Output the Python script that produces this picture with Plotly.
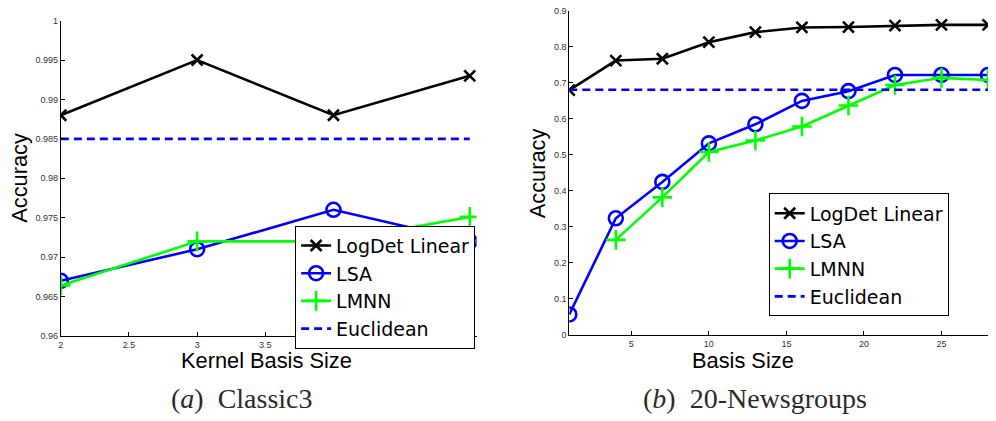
import plotly.graph_objects as go

# ---- data: (a) Classic3 ----
a_x = [2, 3, 4, 5]
a_logdet = [0.988, 0.995, 0.988, 0.993]
a_lsa = [0.967, 0.971, 0.976, 0.972]
a_lmnn = [0.9664, 0.972, 0.972, 0.9751]
a_euclid = 0.985

# ---- data: (b) 20-Newsgroups ----
b_x = [1, 4, 7, 10, 13, 16, 19, 22, 25, 28]
b_logdet = [0.680, 0.762, 0.767, 0.813, 0.841, 0.854, 0.855, 0.859, 0.861, 0.861]
b_lsa = [0.057, 0.324, 0.425, 0.532, 0.585, 0.650, 0.677, 0.722, 0.722, 0.722]
b_lmnn_x = [4, 7, 10, 13, 16, 19, 22, 25, 28]
b_lmnn = [0.264, 0.382, 0.508, 0.540, 0.579, 0.637, 0.694, 0.714, 0.708]
b_euclid = 0.681

series_names = ["LogDet Linear", "LSA", "LMNN", "Euclidean"]

W, H = 996, 421
def px(x):
    return x / W
def py(y):
    return 1 - y / H

BLACK, BLUE, GREEN = "#000000", "#0000FF", "#00FF00"
LW = 2.6

fig = go.Figure()

def add_panel(xs, logdet, lsa, lmnn_x, lmnn, euclid, xa, ya, leg):
    fig.add_trace(go.Scatter(x=xs, y=logdet, mode="lines+markers", name=series_names[0],
                             line=dict(color=BLACK, width=LW),
                             marker=dict(symbol="x-thin", size=11, line=dict(color=BLACK, width=2.6)),
                             xaxis=xa, yaxis=ya, legend=leg))
    fig.add_trace(go.Scatter(x=xs, y=lsa, mode="lines+markers", name=series_names[1],
                             line=dict(color=BLUE, width=LW),
                             marker=dict(symbol="circle-open", size=14, color=BLUE, line=dict(color=BLUE, width=2.6)),
                             xaxis=xa, yaxis=ya, legend=leg))
    fig.add_trace(go.Scatter(x=lmnn_x, y=lmnn, mode="lines+markers", name=series_names[2],
                             line=dict(color=GREEN, width=LW),
                             marker=dict(symbol="cross-thin", size=14, line=dict(color=GREEN, width=2.6)),
                             xaxis=xa, yaxis=ya, legend=leg))
    fig.add_trace(go.Scatter(x=[xs[0], xs[-1]], y=[euclid, euclid], mode="lines", name=series_names[3],
                             line=dict(color=BLUE, width=LW, dash="8px,5px"),
                             xaxis=xa, yaxis=ya, legend=leg))

add_panel(a_x, a_logdet, a_lsa, a_x, a_lmnn, a_euclid, "x", "y", "legend")
add_panel(b_x, b_logdet, b_lsa, b_lmnn_x, b_lmnn, b_euclid, "x2", "y2", "legend2")

tickfont = dict(family="Liberation Sans, Arial, sans-serif", size=9, color="#333333")
axcommon = dict(showline=True, linecolor="black", linewidth=1, mirror=False, showgrid=False,
                zeroline=False, ticks="inside", ticklen=4, tickcolor="black", tickfont=tickfont)

legfont = dict(family="DejaVu Sans, sans-serif", size=19, color="black")

fig.update_layout(
    width=W, height=H,
    margin=dict(l=0, r=0, t=0, b=0),
    paper_bgcolor="white", plot_bgcolor="white",
    showlegend=True,
    xaxis=dict(domain=[px(58), px(475)], range=[2, 5.05], tickvals=[2, 2.5, 3, 3.5, 4, 4.5, 5],
               ticktext=["2", "2.5", "3", "3.5", "4", "4.5", "5"], anchor="y", **axcommon),
    yaxis=dict(domain=[py(339), py(16)], range=[0.96, 1.0],
               tickvals=[0.96, 0.965, 0.97, 0.975, 0.98, 0.985, 0.99, 0.995, 1.0],
               ticktext=["0.96", "0.965", "0.97", "0.975", "0.98", "0.985", "0.99", "0.995", "1"],
               anchor="x", **axcommon),
    xaxis2=dict(domain=[px(568), px(988)], range=[1, 28], tickvals=[5, 10, 15, 20, 25],
                anchor="y2", **axcommon),
    yaxis2=dict(domain=[py(338), py(6)], range=[0, 0.9],
                tickvals=[0, 0.1, 0.2, 0.3, 0.4, 0.5, 0.6, 0.7, 0.8, 0.9],
                ticktext=["0", "0.1", "0.2", "0.3", "0.4", "0.5", "0.6", "0.7", "0.8", "0.9"],
                anchor="x2", **axcommon),
    legend=dict(x=px(293), y=py(226), xanchor="left", yanchor="top", bgcolor="white",
                bordercolor="black", borderwidth=1, font=legfont, tracegroupgap=0,
                itemwidth=30),
    legend2=dict(x=px(768), y=py(193), xanchor="left", yanchor="top", bgcolor="white",
                 bordercolor="black", borderwidth=1, font=legfont, tracegroupgap=0,
                 itemwidth=30),
)

lab = dict(family="Liberation Sans, Arial, sans-serif", size=21.8, color="black")
cap = dict(family="Liberation Serif, Times New Roman, serif", size=28, color="#2a2a2a")
ann = [
    dict(text="Accuracy", x=px(17), y=py(177), textangle=-90, font=lab),
    dict(text="Accuracy", x=px(537), y=py(172), textangle=-90, font=lab),
    dict(text="Kernel Basis Size", x=px(264), y=py(364), font=lab),
    dict(text="Basis Size", x=px(742), y=py(364), font=lab),
    dict(text="(<i>a</i>)  Classic3", x=px(240), y=py(403), font=cap),
    dict(text="(<i>b</i>)  20-Newsgroups", x=px(754), y=py(403), font=cap),
]
for a in ann:
    fig.add_annotation(xref="paper", yref="paper", showarrow=False, xanchor="center", yanchor="middle", **a)

fig.write_html("out.html", config={"displayModeBar": False},
               post_script="document.body.style.margin='0';document.body.style.overflow='hidden';")
